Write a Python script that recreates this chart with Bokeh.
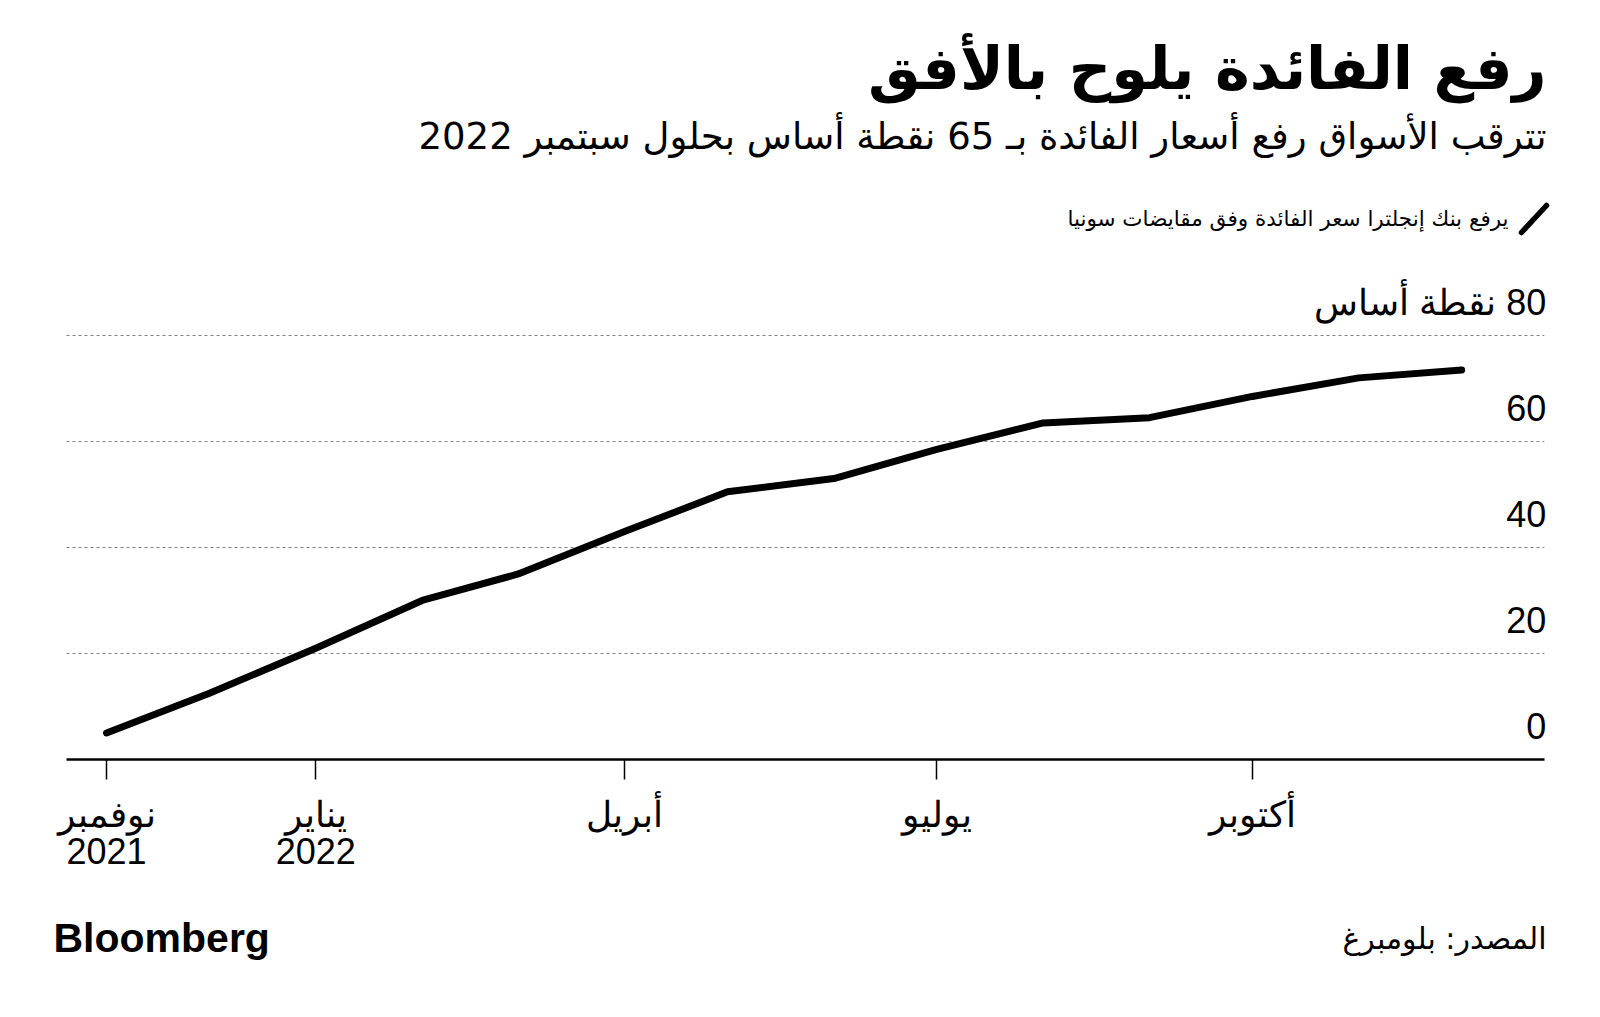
import pandas as pd
from bokeh.plotting import figure
from bokeh.layouts import column
from bokeh.models import Range1d, FixedTicker, Label, Arrow, ColumnDataSource
from bokeh.core.properties import value
from bokeh.embed import file_html
from bokeh.resources import INLINE

# ---------------- data ----------------
months = ["2021-11-01", "2021-12-01", "2022-01-01", "2022-02-01", "2022-03-01",
          "2022-04-01", "2022-05-01", "2022-06-01", "2022-07-01", "2022-08-01",
          "2022-09-01", "2022-10-01", "2022-11-01", "2022-12-01"]
sonia_hike_bp = [5, 12.5, 21, 30, 35, 43, 50.5, 53, 58.5, 63.5, 64.5, 68.5, 72, 73.5]

x_tick_dates = ["2021-11-01", "2022-01-01", "2022-04-01", "2022-07-01", "2022-10-01"]
x_tick_labels = ["نوفمبر\n2021", "يناير\n2022", "أبريل", "يوليو", "أكتوبر"]

y_ticks = [0, 20, 40, 60, 80]
y_tick_labels = ["0", "20", "40", "60", "80 نقطة أساس"]

title_text = "رفع الفائدة يلوح بالأفق"
subtitle_text = "تترقب الأسواق رفع أسعار الفائدة بـ 65 نقطة أساس بحلول سبتمبر 2022"
legend_text = "يرفع بنك إنجلترا سعر الفائدة وفق مقايضات سونيا"
source_text = "المصدر: بلومبرغ"
brand_text = "Bloomberg"

RLE, PDF = "\u202b", "\u202c"
def rtl(s):
    return RLE + s + PDF

def ms(d):
    return pd.Timestamp(d).timestamp() * 1000.0

DAY = 86400000.0
NOV1 = ms("2021-11-01")
# visible frame spans the whole width; axis/grid are bounded to the chart area
x_start = NOV1 - 30.9 * DAY
x_end = NOV1 + 430.8 * DAY
axis_lo = NOV1 - 11.66 * DAY
axis_hi = NOV1 + 419.1 * DAY

# ---------------- main figure ----------------
W, H = 1584, 900
p = figure(width=W, height=H, x_axis_type="datetime", y_axis_location=None,
           x_range=Range1d(x_start, x_end), y_range=Range1d(0, 143.2),
           output_backend="svg", toolbar_location=None,
           min_border_left=0, min_border_right=0, min_border_top=0,
           min_border_bottom=141)
p.outline_line_color = None
p.background_fill_color = "white"
p.border_fill_color = "white"
p.grid.visible = False

# dotted horizontal gridlines, limited to the chart area
gsrc = ColumnDataSource(dict(x0=[axis_lo] * 4, x1=[axis_hi] * 4,
                             y=y_ticks[1:]))
p.segment(x0="x0", y0="y", x1="x1", y1="y", source=gsrc,
          line_color="#808080", line_dash="3 3", line_width=1)

# x axis
tick_ms = [ms(d) for d in x_tick_dates]
xa = p.xaxis[0]
xa.bounds = (axis_lo, axis_hi)
xa.ticker = FixedTicker(ticks=tick_ms)
xa.major_label_overrides = {t: lab for t, lab in zip(tick_ms, x_tick_labels)}
xa.axis_line_color = "black"
xa.axis_line_width = 2.5
xa.major_tick_line_color = "black"
xa.major_tick_line_width = 1.5
xa.major_tick_out = 20
xa.major_tick_in = 0
xa.minor_tick_out = 0
xa.minor_tick_in = 0
xa.major_label_standoff = 14
xa.major_label_text_font = "Liberation Sans"
xa.major_label_text_font_size = "36px"
xa.major_label_text_color = "black"
xa.major_label_text_line_height = 0.92

# line
src = ColumnDataSource(dict(x=[pd.Timestamp(m) for m in months], y=sonia_hike_bp))
p.line("x", "y", source=src, line_width=7, line_color="black",
       line_cap="round", line_join="round")

# y labels (drawn above the gridlines, right aligned at the chart edge)
ysrc = ColumnDataSource(dict(x=[axis_hi] * len(y_ticks), y=y_ticks,
                             t=[rtl(t) for t in y_tick_labels]))
p.text("x", "y", text="t", source=ysrc, text_align="right", text_baseline="middle",
       x_offset=2, y_offset=-33, text_font=value("Liberation Sans"), text_font_size="36px",
       text_color="black")

# ---------------- header texts (screen units, frame relative) ----------------
p.add_layout(Label(x=1546, y=691, x_units="screen", y_units="screen", text=rtl(title_text),
                   text_align="right", text_baseline="middle", text_font="DejaVu Sans",
                   text_font_style="bold", text_font_size="59px", text_color="black"))
p.add_layout(Label(x=1546, y=623, x_units="screen", y_units="screen", text=rtl(subtitle_text),
                   text_align="right", text_baseline="middle", text_font="DejaVu Sans",
                   text_font_size="37px", text_color="black"))
p.add_layout(Label(x=1508, y=541, x_units="screen", y_units="screen", text=rtl(legend_text),
                   text_align="right", text_baseline="middle", text_font="DejaVu Sans",
                   text_font_size="21.5px", text_color="black"))
p.add_layout(Arrow(x_start=1521, y_start=527, x_end=1546, y_end=554,
                   start_units="screen", end_units="screen", start=None, end=None,
                   line_width=5.5, line_color="black", line_cap="round"))

# ---------------- footer figure ----------------
FH = 100
f = figure(width=W, height=FH, x_range=Range1d(0, 1), y_range=Range1d(0, 1),
           x_axis_location=None, y_axis_location=None,
           output_backend="svg", toolbar_location=None, min_border=0)
f.outline_line_color = None
f.grid.visible = False
f.background_fill_color = "white"
f.border_fill_color = "white"
f.add_layout(Label(x=53, y=63, x_units="screen", y_units="screen", text=brand_text,
                   text_align="left", text_baseline="alphabetic", text_font="Liberation Sans",
                   text_font_style="bold", text_font_size="41px", text_color="black"))
f.add_layout(Label(x=1546, y=62, x_units="screen", y_units="screen", text=rtl(source_text),
                   text_align="right", text_baseline="alphabetic", text_font="DejaVu Sans",
                   text_font_size="30px", text_color="black"))

layout = column(p, f, spacing=0)
open("out.html", "w").write(file_html(layout, INLINE))
